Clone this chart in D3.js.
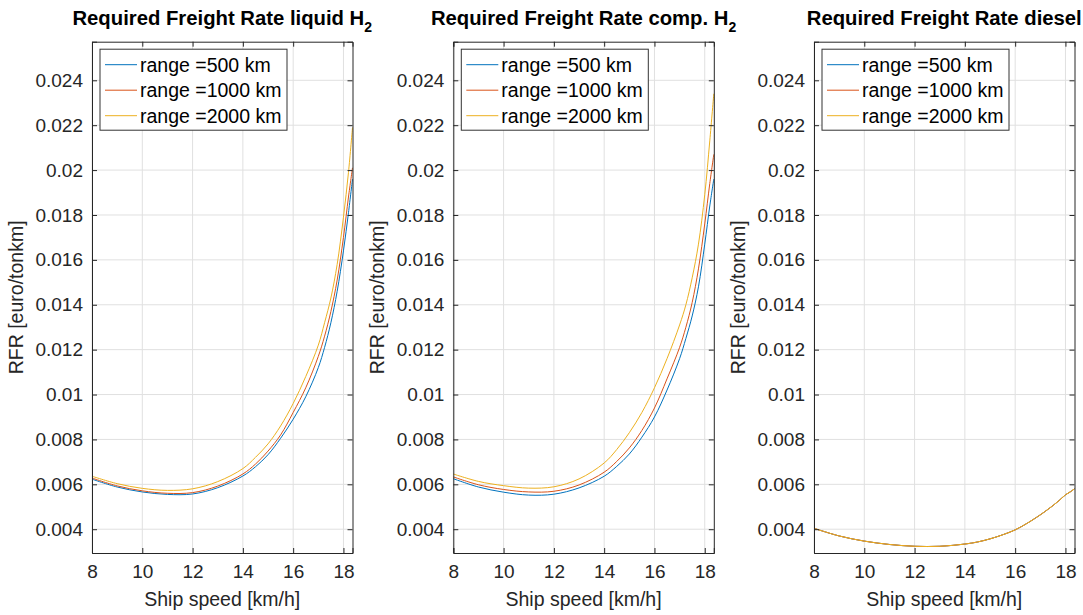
<!DOCTYPE html>
<html>
<head>
<meta charset="utf-8">
<script src="https://cdn.jsdelivr.net/npm/d3@7"></script>
<style>
  html, body { margin: 0; padding: 0; background: #fff; }
  svg { display: block; font-family: "Liberation Sans", Arial, Helvetica, sans-serif; }
</style>
</head>
<body>
<svg id="chart" width="1083" height="615"></svg>
<script>
// ---------- DATA ----------
const speeds = [8, 9, 10, 11, 12, 13, 14, 14.5, 15, 15.5, 16, 16.5, 17, 17.25, 17.5, 17.75, 18, 18.2, 18.36];

const rangeLabels = ["range =500 km", "range =1000 km", "range =2000 km"];
const seriesColors = ["#0072BD", "#D95319", "#EDB120"];

const panelTitles = ["Required Freight Rate liquid H", "Required Freight Rate comp. H", "Required Freight Rate diesel"];
const panelSubscripts = ["2", "2", ""];

// Liquid H2
const liquid500  = [0.00623, 0.00588, 0.00566, 0.00555, 0.00557, 0.00585, 0.00637, 0.00678, 0.00732, 0.00805, 0.0089, 0.0099, 0.0112, 0.0121, 0.0132, 0.0146, 0.0164, 0.0181, 0.0196];
const liquid1000 = [0.00628, 0.00593, 0.00571, 0.00560, 0.00563, 0.00592, 0.00646, 0.00690, 0.00748, 0.0082, 0.0092, 0.0103, 0.0117, 0.0126, 0.0137, 0.0151, 0.0170, 0.0188, 0.0201];
const liquid2000 = [0.00636, 0.00603, 0.00582, 0.00573, 0.00580, 0.00612, 0.00670, 0.00720, 0.00780, 0.0086, 0.0096, 0.0108, 0.0122, 0.0132, 0.0143, 0.0158, 0.0179, 0.0199, 0.0219];

// Compressed H2
const comp500  = [0.00625, 0.00588, 0.00565, 0.00552, 0.00556, 0.00584, 0.00636, 0.00680, 0.00735, 0.0081, 0.0090, 0.0102, 0.0116, 0.0125, 0.0135, 0.0148, 0.0167, 0.0184, 0.0196];
const comp1000 = [0.00633, 0.00598, 0.00577, 0.00566, 0.00569, 0.00597, 0.00654, 0.00702, 0.00762, 0.0084, 0.0094, 0.0107, 0.0121, 0.0130, 0.0141, 0.0156, 0.0176, 0.0194, 0.0207];
const comp2000 = [0.00646, 0.00613, 0.00594, 0.00583, 0.00589, 0.00624, 0.00695, 0.00755, 0.00830, 0.0092, 0.0103, 0.0116, 0.0131, 0.0140, 0.0152, 0.0167, 0.0189, 0.0213, 0.0234];

// Diesel (the three ranges coincide)
const diesel500  = [0.00404, 0.00370, 0.00347, 0.00332, 0.00324, 0.00324, 0.00334, 0.00343, 0.00357, 0.00375, 0.00397, 0.00428, 0.00464, 0.00484, 0.00505, 0.00528, 0.00553, 0.00567, 0.00580];
const diesel1000 = [0.00404, 0.00370, 0.00347, 0.00332, 0.00324, 0.00324, 0.00334, 0.00343, 0.00357, 0.00375, 0.00397, 0.00428, 0.00464, 0.00484, 0.00505, 0.00528, 0.00553, 0.00567, 0.00580];
const diesel2000 = [0.00404, 0.00370, 0.00347, 0.00332, 0.00324, 0.00324, 0.00334, 0.00343, 0.00357, 0.00375, 0.00397, 0.00428, 0.00464, 0.00484, 0.00505, 0.00528, 0.00553, 0.00567, 0.00580];

const xTicks = [8, 10, 12, 14, 16, 18];
const yTicks = [0.004, 0.006, 0.008, 0.01, 0.012, 0.014, 0.016, 0.018, 0.02, 0.022, 0.024];
const xDomain = [8, 18.36];
const yDomain = [0.00294, 0.02572];
const xLabel = "Ship speed [km/h]";
const yLabel = "RFR [euro/tonkm]";

const panels = [
  [liquid500, liquid1000, liquid2000],
  [comp500, comp1000, comp2000],
  [diesel500, diesel1000, diesel2000]
];

// ---------- LAYOUT ----------
const svg = d3.select("#chart");
const lefts = [92, 453.3, 814];
const plotW = 260.5, plotTop = 41.7, plotBottom = 553;
const axisColor = "#262626";
const gridColor = "#e0e0e0";
const fmt = v => String(+v.toFixed(4));

panels.forEach((series, pi) => {
  const L = lefts[pi];
  const x = d3.scaleLinear().domain(xDomain).range([L, L + plotW]);
  const y = d3.scaleLinear().domain(yDomain).range([plotBottom, plotTop]);
  const g = svg.append("g");

  // grid
  g.append("g").selectAll("line").data(xTicks).join("line")
    .attr("x1", d => x(d)).attr("x2", d => x(d))
    .attr("y1", plotTop).attr("y2", plotBottom)
    .attr("stroke", gridColor).attr("stroke-width", 1);
  g.append("g").selectAll("line").data(yTicks).join("line")
    .attr("x1", L).attr("x2", L + plotW)
    .attr("y1", d => y(d)).attr("y2", d => y(d))
    .attr("stroke", gridColor).attr("stroke-width", 1);

  // curves
  const line = d3.line()
    .x((d, i) => x(speeds[i]))
    .y(d => y(d))
    .curve(d3.curveCatmullRom.alpha(0.5));
  series.forEach((vals, si) => {
    g.append("path").datum(vals)
      .attr("d", line)
      .attr("fill", "none")
      .attr("stroke", seriesColors[si])
      .attr("stroke-width", 1);
  });

  // axes (ticks inward on all sides)
  const tickLen = 5;
  const axB = d3.axisBottom(x).tickValues(xTicks).tickSize(-tickLen).tickPadding(10).tickFormat(d3.format("d"));
  const axT = d3.axisTop(x).tickValues(xTicks).tickSize(-tickLen).tickFormat("");
  const axL = d3.axisLeft(y).tickValues(yTicks).tickSize(-tickLen).tickPadding(9).tickFormat(fmt);
  const axR = d3.axisRight(y).tickValues(yTicks).tickSize(-tickLen).tickFormat("");

  const gb = g.append("g").attr("transform", `translate(0,${plotBottom})`).call(axB);
  const gt = g.append("g").attr("transform", `translate(0,${plotTop})`).call(axT);
  const gl = g.append("g").attr("transform", `translate(${L},0)`).call(axL);
  const gr = g.append("g").attr("transform", `translate(${L + plotW},0)`).call(axR);
  [gb, gt, gl, gr].forEach(a => {
    a.select(".domain").attr("stroke", axisColor).attr("stroke-width", 1);
    a.selectAll(".tick line").attr("stroke", axisColor).attr("stroke-width", 1);
    a.selectAll(".tick text").attr("fill", axisColor).style("font-size", "19px")
      .style("font-family", "'Liberation Sans', Arial, sans-serif");
  });
  gb.selectAll(".tick text").attr("dy", "0.8em");

  // title
  const cx = L + plotW / 2;
  const t = g.append("text").attr("x", cx).attr("y", 25)
    .attr("text-anchor", "middle")
    .style("font-size", "20.3px").style("font-weight", "bold").attr("fill", "#000");
  t.append("tspan").text(panelTitles[pi]);
  if (panelSubscripts[pi]) {
    t.append("tspan").attr("dy", 7).style("font-size", "14px").text(panelSubscripts[pi]);
  }

  // axis labels
  g.append("text").attr("x", cx).attr("y", 606)
    .attr("text-anchor", "middle").attr("fill", axisColor)
    .style("font-size", "19.5px").text(xLabel);
  g.append("text")
    .attr("transform", `translate(${L - 69},${(plotTop + plotBottom) / 2}) rotate(-90)`)
    .attr("text-anchor", "middle").attr("fill", axisColor)
    .style("font-size", "19.5px").text(yLabel);

  // legend
  const lgX = L + 8, lgY = plotTop + 7.5, lgW = 187, lgH = 81;
  g.append("rect").attr("x", lgX).attr("y", lgY).attr("width", lgW).attr("height", lgH)
    .attr("fill", "#fff").attr("stroke", "#333").attr("stroke-width", 1);
  rangeLabels.forEach((lab, si) => {
    const ry = lgY + 15.5 + si * 25.5;
    g.append("line").attr("x1", lgX + 5).attr("x2", lgX + 37)
      .attr("y1", ry).attr("y2", ry)
      .attr("stroke", seriesColors[si]).attr("stroke-width", 1);
    g.append("text").attr("x", lgX + 40).attr("y", ry + 7)
      .attr("fill", "#000").style("font-size", "19.5px").text(lab);
  });
});
</script>
</body>
</html>
